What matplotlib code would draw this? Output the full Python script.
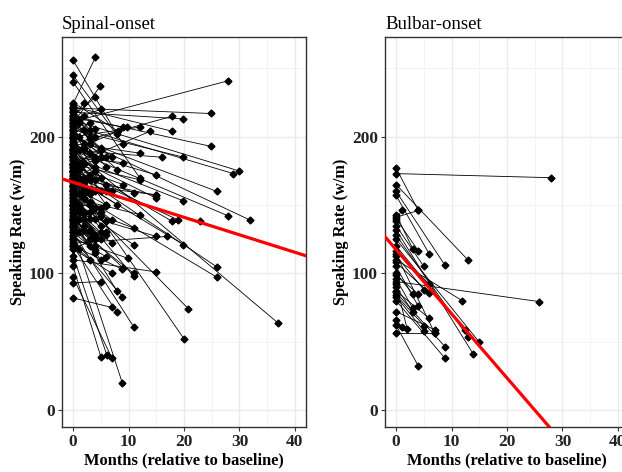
import numpy as np
import matplotlib
matplotlib.use('Agg')
import matplotlib.pyplot as plt

plt.rcParams['font.family'] = ['Liberation Serif', 'DejaVu Serif']

# Spinal-onset subjects: baseline value, follow-up month, follow-up value
spinal_base = [211, 221, 195, 218, 222, 180, 215, 205, 190, 212, 208, 200, 190, 200, 165,
               185, 175, 180, 170, 185, 195, 214, 190, 200, 225, 210, 224, 256, 245, 240,
               215, 190, 170, 160, 175, 160, 110, 135, 150, 120, 125, 140, 125, 82, 120,
               93, 118, 130, 170, 145, 122, 150, 105, 113, 97, 130,
               222, 220, 218, 216, 214, 212, 210, 208, 206, 205, 203, 202, 200, 199, 198,
               196, 195, 194, 193, 192, 190, 189, 188, 187, 186, 185, 184, 183, 182, 181,
               180, 179, 178, 177, 176, 175, 174, 173, 172, 171, 170, 168, 167, 166, 165,
               164, 163, 162, 161, 160, 158, 157, 156, 155, 154, 152, 151, 150, 148, 147,
               145, 144, 142, 141, 140, 138, 137, 135, 134, 132, 130, 128, 126, 124, 121, 118,
               185, 190, 180, 178, 175, 165, 155, 150, 138, 150, 160, 135, 140,
               219, 213, 207, 201, 197, 191, 186, 179, 174, 169, 163, 159, 153, 149, 143,
               139, 133, 127, 209, 204, 188, 171, 157, 146, 136]
spinal_months = [28, 24.8, 17.9, 19.9, 17.9, 13.9, 24.8, 19.9, 16, 29.9, 28.9, 25.9, 28, 31.9, 22.9,
                 19.9, 19, 17.9, 15, 15, 12, 9, 9.8, 12, 8.1, 4.9, 4, 7.9, 9, 12,
                 4, 37, 20, 20.8, 26, 26, 15, 10.9, 10.9, 8.9, 9.9, 7.9, 8.9, 7, 7.9,
                 5, 7, 10.9, 19.9, 15, 17, 10.9, 5, 6.1, 7, 8.9,
                 2, 3, 1, 4, 2, 5, 3, 1, 4, 2, 6, 3, 1, 5, 2,
                 4, 3, 1, 6, 2, 4, 3, 5, 1, 2, 4, 3, 6, 1, 5,
                 2, 3, 4, 1, 5, 2, 3, 6, 1, 4, 2, 3, 5, 1, 4,
                 2, 3, 6, 1, 2, 4, 3, 5, 1, 2, 4, 3, 5, 1, 2,
                 3, 6, 4, 1, 2, 5, 3, 1, 4, 2, 3, 6, 1, 2, 3, 4,
                 9, 15, 12, 9, 11, 15, 12, 11, 9, 6, 7, 4, 4,
                 3, 5, 2, 6, 4, 1, 3, 5, 2, 4, 6, 3, 1, 5, 2,
                 4, 3, 6, 7, 8, 7, 8, 6, 7, 5]
spinal_follow = [241, 217, 215, 213, 204, 204, 193, 185, 185, 175, 173, 160, 142, 139, 138,
                 153, 139, 138, 157, 155, 188, 207, 207, 207, 204, 237, 258, 202, 195, 170,
                 229, 63.5, 52, 74, 104.5, 97, 101, 100, 98, 103, 111, 87, 83, 75, 71.5,
                 94, 100, 61, 121, 127, 127, 121, 39, 40, 38, 19.5,
                 215, 205, 210, 200, 225, 190, 198, 212, 185, 195, 178, 210, 190, 170, 205,
                 182, 188, 200, 165, 180, 175, 195, 160, 178, 192, 168, 172, 150, 176, 185,
                 162, 158, 183, 170, 145, 166, 150, 160, 180, 140, 155, 162, 135, 158, 148,
                 170, 140, 138, 150, 145, 160, 132, 142, 148, 135, 128, 152, 125, 140, 158,
                 130, 138, 120, 146, 132, 148, 125, 130, 115, 140, 120, 130, 118, 135, 110, 125,
                 181, 172, 168.5, 165, 159, 157.5, 143, 133, 104, 149, 139, 117, 127,
                 200, 220, 190, 185, 206, 180, 170, 192, 160, 178, 150, 168, 145, 130, 155,
                 125, 145, 112, 185, 176, 160, 150, 128, 122, 110]

# Bulbar-onset subjects
bulbar_base = [173, 177, 165, 160, 157, 141, 138, 143, 140, 135, 132, 128, 125, 120, 94,
               110, 108, 99, 96, 90, 87, 84, 83, 72, 66, 56, 86, 80, 62, 114, 92,
               116, 113, 105, 100]
bulbar_months = [28, 4, 12.9, 8.8, 6, 4, 1, 3, 4, 5, 13.9, 12.9, 15, 12.4, 25.8,
                 11.9, 6, 4, 3, 3, 6, 5, 5, 7, 1, 7, 8.8, 8.8, 4, 7, 2,
                 6, 5, 4, 3]
bulbar_follow = [170, 146, 110, 106, 114, 146, 146.5, 118, 116.5, 105, 41, 53.7, 49.6, 58.6, 79.3,
                 80, 85.5, 84.7, 74.5, 72, 67, 61.8, 58, 58.6, 61, 56, 46.4, 37.9, 32.2, 56, 59.3,
                 92, 88, 76, 85]

# fitted lines: intercept, slope
spinal_fit = [166.6, -1.28]
bulbar_fit = [117.4, -4.70]

fig = plt.figure(figsize=(6.22, 4.72), dpi=100)
W, H = 622, 472
ax1 = fig.add_axes([62 / W, 1 - 427 / H, 244 / W, 390 / H])
ax2 = fig.add_axes([385 / W, 1 - 427 / H, 244 / W, 390 / H])


def draw(ax, base, months, follow, fit, title):
    for b, m, f in zip(base, months, follow):
        ax.plot([0, m], [b, f], '-', color='black', lw=0.6, zorder=3)
        ax.plot([0, m], [b, f], 'D', color='black', ms=3.5, zorder=4)
    xs = np.array([-2, 42])
    ax.plot(xs, fit[0] + fit[1] * xs, color='#FF0000', lw=2.3, zorder=5)
    ax.set_xticks([0, 10, 20, 30, 40])
    ax.set_xticks([5, 15, 25, 35], minor=True)
    ax.set_yticks([0, 100, 200])
    ax.set_yticks([50, 150, 250], minor=True)
    ax.set_xlim(-2, 42)
    ax.set_ylim(-12.5, 273)
    ax.grid(which='major', color='#EBEBEB', lw=1.0, zorder=0)
    ax.grid(which='minor', color='#F3F3F3', lw=0.6, zorder=0)
    ax.set_axisbelow(True)
    ax.tick_params(which='major', length=3, color='#333333', width=0.8,
                   labelsize=12.5, labelcolor='#222222', pad=2)
    ax.tick_params(which='minor', length=0)
    for lab in ax.get_xticklabels() + ax.get_yticklabels():
        lab.set_fontweight('bold')
    for s in ax.spines.values():
        s.set_color('#333333')
        s.set_linewidth(1.0)
    ax.set_xlabel('Months (relative to baseline)', fontsize=11.8, fontweight='bold', labelpad=2)
    ax.set_ylabel('Speaking Rate (w/m)', fontsize=11.8, fontweight='bold', labelpad=2)
    ax.set_title(title, loc='left', fontsize=13.5, pad=6)


draw(ax1, spinal_base, spinal_months, spinal_follow, spinal_fit, 'Spinal-onset')
draw(ax2, bulbar_base, bulbar_months, bulbar_follow, bulbar_fit, 'Bulbar-onset')

fig.savefig('out.png', dpi=100)
